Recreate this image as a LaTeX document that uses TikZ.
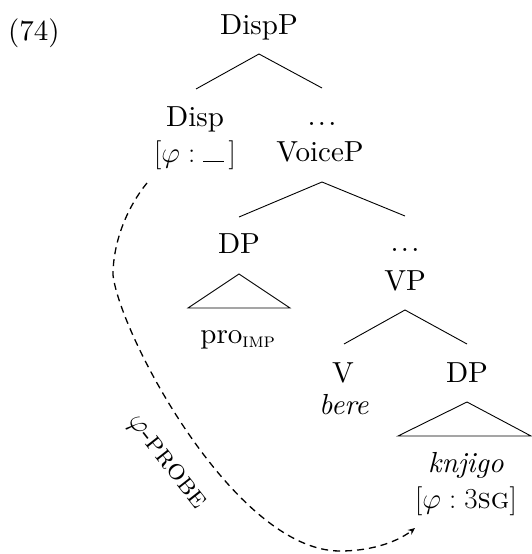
\RequirePackage{fix-cm}
\documentclass[tikz,border=0pt]{standalone}
\usepackage{fontspec}
\setmainfont{lmroman10}[Extension=.otf, UprightFont=*-regular, ItalicFont=*-italic, SmallCapsFont=lmromancaps10-regular]
\usetikzlibrary{arrows.meta}
\newcommand{\mydots}{.\hspace{0.08em}.\hspace{0.08em}.}
\begin{document}
\begin{tikzpicture}[x=1pt,y=-1pt,
  lbl/.style={anchor=base,inner sep=0pt,font=\fontsize{29}{34}\selectfont},
  br/.style={line width=0.9pt},
  probe/.style={line width=1.3pt,dash pattern=on 7pt off 5pt,-{Stealth[length=7pt,width=6pt]}}]
\useasboundingbox (0,0) rectangle (532,554);
\node[lbl,anchor=base west] (ex) at (8,40) {(74)};
\node[lbl] (dispP) at (259,34) {DispP};
\node[lbl] (disp) at (195,126) {Disp};
\node[lbl] (f1) at (195,162) {$[\varphi:\rule{0.7em}{0.05em}\,]$};
\node[lbl] (d1) at (322,125) {\mydots};
\node[lbl] (voiceP) at (320,161) {VoiceP};
\node[lbl] (dp1) at (239,253) {DP};
\node[lbl] (d2) at (405,251) {\mydots};
\node[lbl] (vp) at (405,290) {VP};
\node[lbl] (pro) at (238,343) {pro\textsubscript{\textsc{imp}}};
\node[lbl] (v) at (343,382) {V};
\node[lbl] (dp2) at (467,382) {DP};
\node[lbl] (bere) at (344,414) {\textit{bere}};
\node[lbl] (knj) at (466,472) {\textit{knjigo}};
\node[lbl] (f2) at (466,508) {$[\varphi:3\mbox{\textsc{sg}}]$};
% branches
\draw[br] ([xshift=1pt,yshift=37pt]disp.base) -- ([yshift=-20pt]dispP.base) -- ([yshift=37pt]d1.base);
\draw[br] ([yshift=36pt]dp1.base) -- ([xshift=2pt,yshift=-21pt]voiceP.base) -- ([yshift=35pt]d2.base);
\draw[br] ([yshift=-21pt]dp1.base) -- ([xshift=-51pt,yshift=-55pt]dp1.base) -- ([xshift=51pt,yshift=-55pt]dp1.base) -- cycle;
\draw[br] ([xshift=1pt,yshift=38pt]v.base) -- ([yshift=-20pt]vp.base) -- ([yshift=38pt]dp2.base);
\draw[br] ([yshift=-20pt]dp2.base) -- ([xshift=-69pt,yshift=-54pt]dp2.base) -- ([xshift=64pt,yshift=-54pt]dp2.base) -- cycle;
% probe
\draw[probe] ([xshift=-48pt,yshift=-21pt]f1.base) .. controls (125,210) and (113,245) .. (113,275) .. controls (120,335) and (235,551) .. (340,551) .. controls (375,551) and (400,540) .. ([xshift=-51pt,yshift=-20pt]f2.base);
\node[lbl,rotate=-52,anchor=center] (lab) at (166,463) {$\varphi$-\textsc{probe}};
\end{tikzpicture}
\end{document}
